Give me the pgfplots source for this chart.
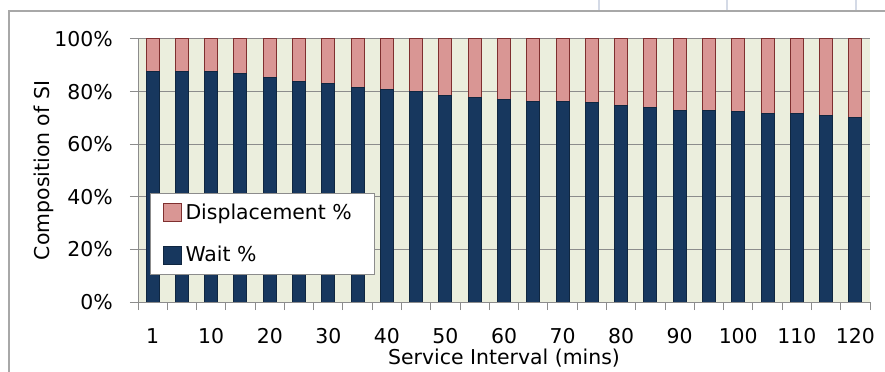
\documentclass[border=0pt]{standalone}
\usepackage{fontspec}
\setmainfont{DejaVu Sans}
\usepackage{pgfplots}
\pgfplotsset{compat=1.18}
\usepackage{pgfplotstable}

\definecolor{waitblue}{HTML}{17375E}
\definecolor{waitedge}{HTML}{0F2640}
\definecolor{dispfill}{HTML}{D99694}
\definecolor{dispedge}{HTML}{7F2F2F}
\definecolor{plotbg}{HTML}{EBEEDD}
\definecolor{gridgray}{HTML}{8C8C8C}
\definecolor{framegray}{HTML}{A8A8A8}
\definecolor{sheetgrid}{HTML}{D4DAE6}

% service interval composition: wait share and displacement share (percent)
\pgfplotstableread{
idx interval wait disp
0   1    87.6 12.4
1   5    87.6 12.4
2   10   87.6 12.4
3   15   87.0 13.0
4   20   85.4 14.6
5   25   83.8 16.2
6   30   83.1 16.9
7   35   81.6 18.4
8   40   80.9 19.1
9   45   80.0 20.0
10  50   78.6 21.4
11  55   77.8 22.2
12  60   77.1 22.9
13  65   76.4 23.6
14  70   76.4 23.6
15  75   75.8 24.2
16  80   74.6 25.4
17  85   73.9 26.1
18  90   73.0 27.0
19  95   73.0 27.0
20  100  72.4 27.6
21  105  71.7 28.3
22  110  71.7 28.3
23  115  71.0 29.0
24  120  70.2 29.8
}\sidata

\begin{document}
\fontsize{20.5}{24}\selectfont
\begin{tikzpicture}
\useasboundingbox (0bp,0bp) rectangle (885bp,372bp);
\fill[white] (0bp,0bp) rectangle (885bp,372bp);
% worksheet cell lines above the chart
\foreach \gx in {599,727,856}
  \draw[sheetgrid, line width=1.5bp] (\gx bp,361bp) -- (\gx bp,375bp);
% chart area frame
\draw[framegray, line width=2bp] (9bp,-10bp) -- (9bp,361bp) -- (895bp,361bp);

\begin{axis}[
  at={(138bp,70bp)}, anchor=south west,
  scale only axis, width=732bp, height=263bp,
  ybar stacked, bar width=13bp,
  xmin=-0.5, xmax=24.5, ymin=0, ymax=100,
  axis background/.style={fill=plotbg},
  axis x line*=bottom, axis y line*=left,
  axis line style={gridgray, line width=1bp},
  tick align=outside,
  tick style={gridgray, line width=1bp},
  major tick length=8bp,
  ytick={0,20,40,60,80,100},
  yticklabels={0\%,20\%,40\%,60\%,80\%,100\%},
  yticklabel style={anchor=east, inner sep=0pt, xshift=-17bp},
  ymajorgrids, grid style={gridgray, line width=1bp},
  xtick={-0.5,0.5,...,24.5},
  xticklabels={},
  extra x ticks={0,2,...,24},
  extra x tick labels={1,10,20,30,40,50,60,70,80,90,100,110,120},
  extra x tick style={major tick length=0pt, xticklabel style={anchor=north, inner sep=0pt, yshift=-26bp}},
  xlabel={Service Interval (mins)},
  xlabel style={at={(axis description cs:0.5,-0.179)}, anchor=north, inner sep=0pt},
  ylabel={Composition of SI},
  ylabel style={at={(axis description cs:-0.128,0.5)}, anchor=center, inner sep=0pt},
  reverse legend,
  legend style={at={(axis description cs:0.0164,0.4144)}, anchor=north west,
    draw=gridgray, fill=white, line width=1bp,
    inner xsep=12bp, inner ysep=8bp, row sep=20bp},
  legend cell align=left,
  legend image code/.code={\path (20bp,0bp); \draw[#1, line width=1bp] (0bp,-9bp) rectangle (18bp,9bp);},
]
\addplot+[fill=waitblue, draw=waitedge, line width=1bp] table[x=idx, y=wait] {\sidata};
\addlegendentry{Wait \%}
\addplot+[fill=dispfill, draw=dispedge, line width=1bp] table[x=idx, y=disp] {\sidata};
\addlegendentry{Displacement \%\hspace*{9bp}}
\end{axis}
\end{tikzpicture}
\end{document}
